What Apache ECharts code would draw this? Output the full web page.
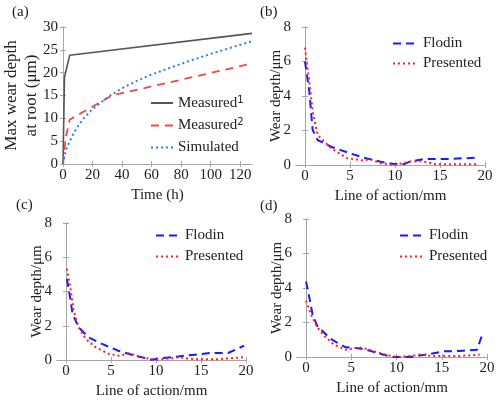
<!DOCTYPE html>
<html>
<head>
<meta charset="utf-8">
<script src="https://cdn.jsdelivr.net/npm/echarts@6/dist/echarts.min.js"></script>
<style>
  html, body { margin: 0; padding: 0; background: #fff; }
  #chart { width: 500px; height: 400px; }
</style>
</head>
<body>
<div id="chart"></div>
<script>
// panel (a): wear depth at root vs time
var timeM1 = [0, 1, 4.5, 128];
var measured1 = [0, 19, 23.8, 28.6];
var timeM2 = [0, 2, 4.5, 33, 128];
var measured2 = [0, 6, 9.7, 15, 22];
var timeSim = [0, 1, 2, 4, 7, 10, 14, 19, 25, 32, 40, 50, 60, 72, 85, 100, 114, 128];
var simulated = [0, 1.8, 3, 4.6, 6.6, 8.2, 10, 11.7, 13.3, 15, 16.6, 18.2, 19.6, 21, 22.5, 24.1, 25.5, 26.9];

// panel (b)
var flodinBx = [0, 0.48, 0.85, 1.4, 2.9, 4.7, 6.55, 8.4, 9.9, 11, 11.7, 13.2, 15.8, 19.1];
var flodinB = [6.0, 4.25, 2.03, 1.45, 1.06, 0.73, 0.42, 0.19, 0.06, 0.05, 0.2, 0.35, 0.35, 0.42];
var presentedBx = [0, 0.48, 0.85, 1.4, 2.9, 4.7, 6.5, 7.2, 8.4, 9.9, 11.7, 13, 14.5, 19];
var presentedB = [6.8, 4.83, 3.09, 1.74, 0.97, 0.39, 0.25, 0.35, 0.1, 0.0, 0.2, 0.22, 0.05, 0.05];

// panel (c)
var flodinCx = [0.1, 0.48, 0.73, 1.4, 2.5, 4, 5.8, 7.7, 9.5, 10.6, 12.5, 14.3, 16.1, 18, 19.8];
var flodinC = [4.74, 3.57, 2.69, 1.91, 1.32, 0.94, 0.54, 0.25, 0.02, 0.1, 0.21, 0.31, 0.41, 0.41, 0.84];
var presentedCx = [0.1, 0.48, 0.85, 1.4, 2.2, 3.3, 4.8, 5.9, 7, 8.4, 10, 12.5, 14.3, 17, 19.8];
var presentedC = [5.33, 4.25, 2.89, 1.91, 1.23, 0.74, 0.35, 0.25, 0.39, 0.16, 0, 0.16, 0.04, 0.05, 0.16];

// panel (d)
var flodinDx = [0, 0.37, 0.73, 1.3, 1.85, 2.6, 3.5, 4.4, 5.55, 6.67, 8.1, 9.6, 11.5, 13.3, 15.2, 17, 18.9, 19.4];
var flodinD = [4.38, 3.42, 2.45, 1.72, 1.49, 1.1, 0.81, 0.56, 0.52, 0.42, 0.19, 0, 0, 0.14, 0.33, 0.35, 0.42, 1.19];
var presentedDx = [0, 0.55, 1.3, 2.1, 3.1, 4.4, 5.9, 7, 8.5, 10, 11.5, 12.6, 14, 17, 19.2];
var presentedD = [3.26, 2.45, 1.68, 1.19, 0.71, 0.42, 0.56, 0.42, 0.17, 0, 0.06, 0.14, 0.06, 0.06, 0.14];

// tick values
var timeTicks = [0, 20, 40, 60, 80, 100, 120];
var depthTicksA = [0, 5, 10, 15, 20, 25, 30];
var lineTicks = [0, 5, 10, 15, 20];
var depthTicks = [0, 2, 4, 6, 8];

var FONT = 'Liberation Serif';
var FRAME = '#a6a6a6';

function zip(xs, ys) {
  return xs.map(function (x, i) { return [x, ys[i]]; });
}

var chart = echarts.init(document.getElementById('chart'));

var grids = [
  { left: 63, top: 27, width: 189, height: 137 },
  { left: 296, top: 27, width: 189, height: 138 },
  { left: 57, top: 223, width: 189, height: 137 },
  { left: 297, top: 219, width: 190, height: 138 }
];

var xAxes = [];
var yAxes = [];

function addAxes(gi, xmin, xmax, xticks, ymin, ymax, yticks, xname, yname, ynameGap, ynameSize) {
  var common = {
    type: 'value',
    gridIndex: gi,
    axisLine: { show: true, lineStyle: { color: FRAME, width: 1 } },
    splitLine: { show: false }
  };
  xAxes.push(Object.assign({}, common, {
    position: 'bottom', min: xmin, max: xmax,
    axisTick: { show: true, inside: true, length: 3, lineStyle: { color: FRAME }, customValues: xticks },
    axisLabel: { customValues: xticks, margin: 4, color: '#222', fontFamily: FONT, fontSize: 15 },
    name: xname, nameLocation: 'middle', nameGap: 24, nameMoveOverlap: false,
    nameTextStyle: { color: '#222', fontFamily: FONT, fontSize: 15 }
  }));
  xAxes.push(Object.assign({}, common, {
    position: 'top', min: xmin, max: xmax,
    axisTick: { show: true, inside: true, length: 3, lineStyle: { color: FRAME }, customValues: xticks },
    axisLabel: { show: false }
  }));
  yAxes.push(Object.assign({}, common, {
    position: 'left', min: ymin, max: ymax,
    axisTick: { show: true, inside: true, length: 3, lineStyle: { color: FRAME }, customValues: yticks },
    axisLabel: { customValues: yticks, margin: 5, color: '#222', fontFamily: FONT, fontSize: 15 },
    name: yname, nameLocation: 'middle', nameGap: ynameGap, nameMoveOverlap: false,
    nameTextStyle: { color: '#222', fontFamily: FONT, fontSize: ynameSize, lineHeight: 20 }
  }));
  yAxes.push(Object.assign({}, common, {
    position: 'right', min: ymin, max: ymax,
    axisTick: { show: true, inside: true, length: 3, lineStyle: { color: FRAME }, customValues: yticks },
    axisLabel: { show: false }
  }));
}

addAxes(0, 0, 128, timeTicks, 0, 30, depthTicksA, 'Time (h)', 'Max wear depth\nat root (\u03bcm)', 21, 17);
addAxes(1, -1, 20, lineTicks, 0, 8, depthTicks, 'Line of action/mm', 'Wear depth/\u03bcm', 10, 15);
addAxes(2, -1, 20, lineTicks, 0, 8, depthTicks, 'Line of action/mm', 'Wear depth/\u03bcm', 10, 15);
addAxes(3, -1, 20, lineTicks, 0, 8, depthTicks, 'Line of action/mm', 'Wear depth/\u03bcm', 10, 15);

function lineSeries(name, gi, data, color, type, width) {
  return {
    name: name, type: 'line',
    xAxisIndex: gi * 2, yAxisIndex: gi * 2,
    data: data, symbol: 'none', smooth: false, silent: true,
    lineStyle: { color: color, width: width, type: type },
    itemStyle: { color: color }
  };
}

var BLUE = '#1a1aff';
var RED = '#ff2020';

var series = [
  lineSeries('Measured1', 0, zip(timeM1, measured1), '#555555', 'solid', 1.6),
  lineSeries('Measured2', 0, zip(timeM2, measured2), '#f04848', [8, 6], 1.8),
  lineSeries('Simulated', 0, zip(timeSim, simulated), '#2f7ee6', [2, 3], 2),
  lineSeries('Flodin', 1, zip(flodinBx, flodinB), BLUE, [8, 5], 2),
  lineSeries('Presented', 1, zip(presentedBx, presentedB), RED, [2, 3], 2),
  lineSeries('Flodin', 2, zip(flodinCx, flodinC), BLUE, [8, 5], 2),
  lineSeries('Presented', 2, zip(presentedCx, presentedC), RED, [2, 3], 2),
  lineSeries('Flodin', 3, zip(flodinDx, flodinD), BLUE, [8, 5], 2),
  lineSeries('Presented', 3, zip(presentedDx, presentedD), RED, [2, 3], 2)
];

var legendText = {
  color: '#222', fontFamily: FONT, fontSize: 15,
  rich: { s: { fontFamily: 'DejaVu Sans', fontSize: 10, verticalAlign: 'top', padding: [0, 0, 6, 0] } }
};

function legendAt(left, top, names, gap, width) {
  return {
    left: left, top: top, orient: 'vertical',
    data: names, itemWidth: width, itemHeight: 14, itemGap: gap,
    selectedMode: false, padding: 0,
    itemStyle: { opacity: 0 },
    textStyle: legendText,
    formatter: function (n) {
      if (n === 'Measured1') return 'Measured{s|1}';
      if (n === 'Measured2') return 'Measured{s|2}';
      return n;
    }
  };
}

var option = {
  animation: false,
  backgroundColor: '#fff',
  grid: grids,
  xAxis: xAxes,
  yAxis: yAxes,
  legend: [
    legendAt(150, 95, ['Measured1', 'Measured2', 'Simulated'], 7, 22),
    legendAt(392, 36, ['Flodin', 'Presented'], 5, 25),
    legendAt(155, 228, ['Flodin', 'Presented'], 6, 24),
    legendAt(399, 228, ['Flodin', 'Presented'], 6, 24)
  ],
  graphic: [
    { type: 'text', left: 12, top: 5, style: { text: '(a)', font: '15px ' + FONT, fill: '#222' } },
    { type: 'text', left: 260, top: 5, style: { text: '(b)', font: '15px ' + FONT, fill: '#222' } },
    { type: 'text', left: 16, top: 198, style: { text: '(c)', font: '15px ' + FONT, fill: '#222' } },
    { type: 'text', left: 260, top: 199, style: { text: '(d)', font: '15px ' + FONT, fill: '#222' } }
  ],
  series: series
};

chart.setOption(option);
window.addEventListener('resize', function () { chart.resize(); });
</script>
</body>
</html>
